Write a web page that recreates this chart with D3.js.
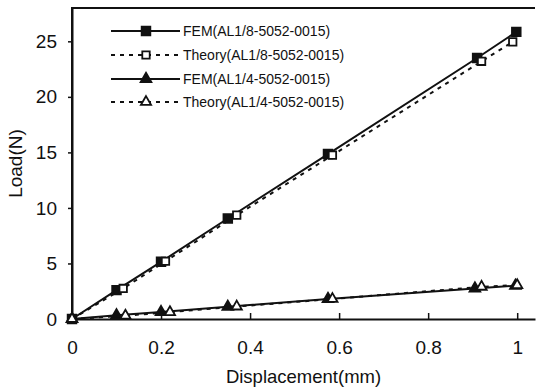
<!DOCTYPE html>
<html>
<head>
<meta charset="utf-8">
<script src="https://cdn.jsdelivr.net/npm/d3@7"></script>
<style>
  body { margin: 0; background: #fff; }
  text { font-family: "Liberation Sans", Arial, sans-serif; fill: #111; }
</style>
</head>
<body>
<script>
const width = 536;
const height = 390;

// values
const femA = [[0,0],[0.10,2.6],[0.20,5.15],[0.35,9.05],[0.575,14.85],[0.91,23.5],[0.998,25.85]];
const thA  = [[0,0],[0.115,2.75],[0.21,5.2],[0.37,9.35],[0.585,14.75],[0.92,23.2],[0.99,24.95]];
const femB = [[0,0],[0.10,0.33],[0.20,0.62],[0.35,1.1],[0.575,1.8],[0.905,2.75],[0.996,3.0]];
const thB  = [[0,0],[0.12,0.3],[0.22,0.62],[0.37,1.12],[0.585,1.8],[0.92,2.9],[1.0,3.05]];

const xTicks = [0, 0.2, 0.4, 0.6, 0.8, 1];
const yTicks = [0, 5, 10, 15, 20, 25];
const legendLabels = ["FEM(AL1/8-5052-0015)", "Theory(AL1/8-5052-0015)",
                      "FEM(AL1/4-5052-0015)", "Theory(AL1/4-5052-0015)"];

const margin = {top: 8, right: 1, bottom: 71, left: 72};

const x = d3.scaleLinear().domain([0, 1.04]).range([margin.left, width - margin.right]);
const y = d3.scaleLinear().domain([0, 28]).range([height - margin.bottom, margin.top]);

const svg = d3.select("body").append("svg")
    .attr("width", width)
    .attr("height", height);

// frame
svg.append("path")
    .attr("d", `M${x(0)},${y(0)} V${y(28)} H${x(1.04)}`)
    .attr("fill", "none")
    .attr("stroke", "#111")
    .attr("stroke-width", 2);

// x axis, ticks inward
const xAxis = svg.append("g")
    .attr("transform", `translate(0,${y(0)})`)
    .call(d3.axisBottom(x).tickValues(xTicks).tickSizeInner(-6).tickSizeOuter(0).tickPadding(22)
        .tickFormat(d => d3.format("")(d)));
xAxis.select(".domain").attr("stroke", "#111").attr("stroke-width", 2);
xAxis.selectAll(".tick line").attr("stroke", "#111").attr("stroke-width", 1.5);
xAxis.selectAll("text").style("font-size", "19px");

// y axis, ticks outward
const yAxis = svg.append("g")
    .attr("transform", `translate(${x(0)},0)`)
    .call(d3.axisLeft(y).tickValues(yTicks).tickSizeInner(4).tickSizeOuter(0).tickPadding(11));
yAxis.select(".domain").attr("stroke", "#111").attr("stroke-width", 2);
yAxis.selectAll(".tick line").attr("stroke", "#111").attr("stroke-width", 1.5);
yAxis.selectAll("text").style("font-size", "19px");

svg.append("text")
    .attr("x", (x(0) + x(1.04)) / 2)
    .attr("y", 383)
    .attr("text-anchor", "middle")
    .style("font-size", "18.5px")
    .text("Displacement(mm)");

svg.append("text")
    .attr("transform", `translate(22,${(y(0) + y(28)) / 2}) rotate(-90)`)
    .attr("text-anchor", "middle")
    .style("font-size", "19px")
    .text("Load(N)");

const line = d3.line().x(d => x(d[0])).y(d => y(d[1]));

const series = [
    {data: femA, dash: null, shape: d3.symbolSquare, fill: "#111", size: 75},
    {data: thA, dash: "4,5", shape: d3.symbolSquare, fill: "#fff", size: 55},
    {data: femB, dash: null, shape: d3.symbolTriangle, fill: "#111", size: 50},
    {data: thB, dash: "4,5", shape: d3.symbolTriangle, fill: "#fff", size: 45}
];

series.forEach(s => {
    svg.append("path")
        .datum(s.data)
        .attr("d", line)
        .attr("fill", "none")
        .attr("stroke", "#111")
        .attr("stroke-width", 2)
        .attr("stroke-dasharray", s.dash);
    svg.selectAll(null)
        .data(s.data)
        .enter()
        .append("path")
        .attr("transform", d => `translate(${x(d[0])},${y(d[1])})`)
        .attr("d", d3.symbol().type(s.shape).size(s.size))
        .attr("fill", s.fill)
        .attr("stroke", "#111")
        .attr("stroke-width", 1.8);
});

// legend
const legend = svg.append("g");
const rowY = [31, 55, 79, 102];
series.forEach((s, i) => {
    legend.append("line")
        .attr("x1", 111).attr("x2", 180)
        .attr("y1", rowY[i]).attr("y2", rowY[i])
        .attr("stroke", "#111")
        .attr("stroke-width", 2)
        .attr("stroke-dasharray", s.dash);
    legend.append("path")
        .attr("transform", `translate(146,${rowY[i]})`)
        .attr("d", d3.symbol().type(s.shape).size(s.size))
        .attr("fill", s.fill)
        .attr("stroke", "#111")
        .attr("stroke-width", 1.8);
    legend.append("text")
        .attr("x", 183)
        .attr("y", rowY[i] + 5)
        .style("font-size", "14px")
        .text(legendLabels[i]);
});
</script>
</body>
</html>
